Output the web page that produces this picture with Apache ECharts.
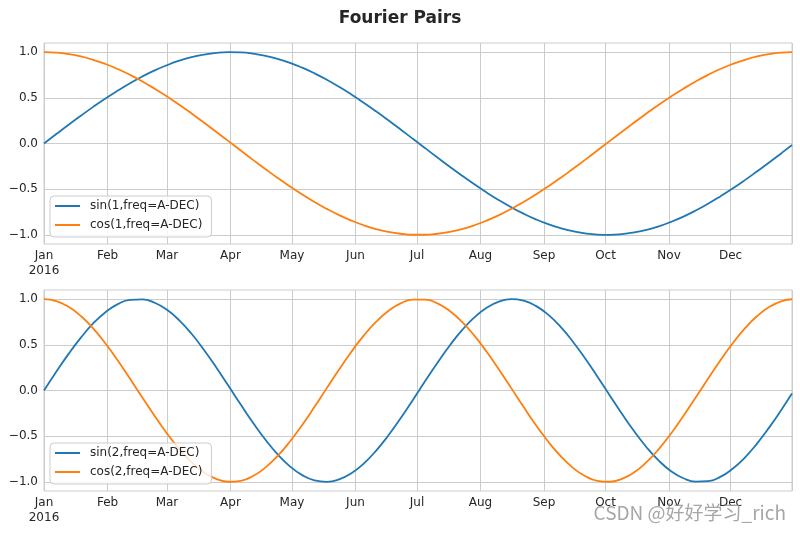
<!DOCTYPE html>
<html>
<head>
<meta charset="utf-8">
<script src="https://cdn.jsdelivr.net/npm/echarts@6/dist/echarts.min.js"></script>
<style>
html,body{margin:0;padding:0;background:#fff;}
#chart{width:800px;height:533px;}
</style>
</head>
<body>
<div id="chart"></div>
<script>
// Sample dates (2016)
const dates = ['2016-01-01','2016-01-07','2016-01-13','2016-01-19','2016-01-25','2016-01-31',
  '2016-02-06','2016-02-12','2016-02-18','2016-02-24','2016-03-01','2016-03-07','2016-03-13','2016-03-19',
  '2016-03-25','2016-03-31','2016-04-06','2016-04-12','2016-04-18','2016-04-24','2016-04-30','2016-05-06',
  '2016-05-12','2016-05-18','2016-05-24','2016-05-30','2016-06-05','2016-06-11','2016-06-17','2016-06-23',
  '2016-06-29','2016-07-05','2016-07-11','2016-07-17','2016-07-23','2016-07-29','2016-08-04','2016-08-10',
  '2016-08-16','2016-08-22','2016-08-28','2016-09-03','2016-09-09','2016-09-15','2016-09-21','2016-09-27',
  '2016-10-03','2016-10-09','2016-10-15','2016-10-21','2016-10-27','2016-11-02','2016-11-08','2016-11-14',
  '2016-11-20','2016-11-26','2016-12-02','2016-12-08','2016-12-14','2016-12-20','2016-12-26','2016-12-31'];

// Values
const sin1 = [0.000,0.103,0.205,0.304,0.401,0.493,0.579,0.660,0.734,0.800,0.857,0.906,0.945,0.973,0.992,1.000,
  0.997,0.984,0.960,0.926,0.883,0.830,0.768,0.698,0.621,0.537,0.447,0.353,0.255,0.154,0.051,
  -0.051,-0.154,-0.255,-0.353,-0.447,-0.537,-0.621,-0.698,-0.768,-0.830,-0.883,-0.926,-0.960,-0.984,-0.997,
  -1.000,-0.992,-0.973,-0.945,-0.906,-0.857,-0.800,-0.734,-0.660,-0.579,-0.493,-0.401,-0.304,-0.205,-0.103,-0.017];
const cos1 = [1.000,0.995,0.979,0.953,0.916,0.870,0.815,0.751,0.679,0.600,0.515,0.424,0.329,0.230,0.128,0.026,
  -0.077,-0.179,-0.279,-0.377,-0.470,-0.558,-0.641,-0.716,-0.784,-0.844,-0.895,-0.936,-0.967,-0.988,-0.999,
  -0.999,-0.988,-0.967,-0.936,-0.895,-0.844,-0.784,-0.716,-0.641,-0.558,-0.470,-0.377,-0.279,-0.179,-0.077,
  0.026,0.128,0.230,0.329,0.424,0.515,0.600,0.679,0.751,0.815,0.870,0.916,0.953,0.979,0.995,1.000];
const sin2 = [0.000,0.205,0.401,0.579,0.734,0.857,0.945,0.992,0.997,0.960,0.883,0.768,0.621,0.447,0.255,0.051,
  -0.154,-0.353,-0.537,-0.698,-0.830,-0.926,-0.984,-1.000,-0.973,-0.906,-0.800,-0.660,-0.493,-0.304,-0.103,
  0.103,0.304,0.493,0.660,0.800,0.906,0.973,1.000,0.984,0.926,0.830,0.698,0.537,0.353,0.154,
  -0.051,-0.255,-0.447,-0.621,-0.768,-0.883,-0.960,-0.997,-0.992,-0.945,-0.857,-0.734,-0.579,-0.401,-0.205,-0.034];
const cos2 = [1.000,0.979,0.916,0.815,0.679,0.515,0.329,0.128,-0.077,-0.279,-0.470,-0.641,-0.784,-0.895,-0.967,-0.999,
  -0.988,-0.936,-0.844,-0.716,-0.558,-0.377,-0.179,0.026,0.230,0.424,0.600,0.751,0.870,0.953,0.995,
  0.995,0.953,0.870,0.751,0.600,0.424,0.230,0.026,-0.179,-0.377,-0.558,-0.716,-0.844,-0.936,-0.988,
  -0.999,-0.967,-0.895,-0.784,-0.641,-0.470,-0.279,-0.077,0.128,0.329,0.515,0.679,0.815,0.916,0.979,0.999];

const seriesNames = ['sin(1,freq=A-DEC)','cos(1,freq=A-DEC)','sin(2,freq=A-DEC)','cos(2,freq=A-DEC)'];
const yTicks = [-1.0,-0.5,0.0,0.5,1.0];
const monthNames = ['Jan','Feb','Mar','Apr','May','Jun','Jul','Aug','Sep','Oct','Nov','Dec'];
const titleText = 'Fourier Pairs';
const watermark = 'CSDN @好好学习_rich';

const FONT = 'DejaVu Sans';
const TXT = '#262626';
const GRIDC = '#cccccc';
const DAY = 86400000;

function pairs(vals){ return dates.map((d,i)=>[d, vals[i]]); }

function xAxis(idx){
  return {
    type:'time', gridIndex:idx,
    min:'2016-01-01', max:'2016-12-31',
    splitNumber:12, minInterval:28*DAY, maxInterval:31*DAY,
    axisLine:{show:false}, axisTick:{show:false},
    axisLabel:{
      color:TXT, fontFamily:FONT, fontSize:12, margin:4, lineHeight:15, hideOverlap:false,
      formatter:function(v){
        const d = new Date(v);
        if (d.getDate() !== 1) return '';
        const m = d.getMonth();
        return m === 0 ? monthNames[0] + '\n' + d.getFullYear() : monthNames[m];
      }
    },
    splitLine:{show:true, lineStyle:{color:GRIDC, width:1}}
  };
}
function yAxis(idx){
  return {
    type:'value', gridIndex:idx, min:-1.1, max:1.1,
    axisLine:{show:false},
    axisTick:{show:false, customValues:yTicks},
    axisLabel:{customValues:yTicks, color:TXT, fontFamily:FONT, fontSize:12, margin:6,
      formatter:v=>v.toFixed(1).replace('-','\u2212')},
    splitLine:{show:true, lineStyle:{color:GRIDC, width:1}}
  };
}
function legend(top, names){
  return {
    orient:'vertical', left:50, top:top, data:names,
    icon:'rect', itemWidth:25, itemHeight:2, itemGap:5,
    padding:[3,9,5,5],
    backgroundColor:'rgba(255,255,255,0.8)', borderColor:'#cccccc', borderWidth:1, borderRadius:4,
    textStyle:{color:TXT, fontFamily:FONT, fontSize:12, lineHeight:14, padding:[0,0,0,5]}
  };
}
function line(name, vals, idx, color){
  return {
    name, type:'line', xAxisIndex:idx, yAxisIndex:idx, data:pairs(vals),
    showSymbol:false, smooth:0.5, color,
    lineStyle:{width:1.8, color}
  };
}

const chart = echarts.init(document.getElementById('chart'), null, {renderer:'canvas'});
chart.setOption({
  animation:false,
  backgroundColor:'#ffffff',
  textStyle:{fontFamily:FONT},
  title:{text:titleText, left:'center', top:10, padding:0,
    textStyle:{fontFamily:FONT, fontSize:17, fontWeight:'bold', color:TXT}},
  grid:[
    {left:44, right:8, top:43, height:201, show:true, borderColor:GRIDC, borderWidth:1, backgroundColor:'transparent'},
    {left:44, right:8, top:290, height:201, show:true, borderColor:GRIDC, borderWidth:1, backgroundColor:'transparent'}
  ],
  xAxis:[xAxis(0), xAxis(1)],
  yAxis:[yAxis(0), yAxis(1)],
  legend:[legend(196, seriesNames.slice(0,2)), legend(443, seriesNames.slice(2,4))],
  series:[
    line(seriesNames[0], sin1, 0, '#1f77b4'),
    line(seriesNames[1], cos1, 0, '#ff7f0e'),
    line(seriesNames[2], sin2, 1, '#1f77b4'),
    line(seriesNames[3], cos2, 1, '#ff7f0e')
  ],
  graphic:[{
    type:'text', right:14, top:503, z:100,
    style:{text:watermark, font:'19px "Noto Sans CJK SC"', fill:'rgba(150,150,150,0.85)'}
  }]
});
</script>
</body>
</html>
